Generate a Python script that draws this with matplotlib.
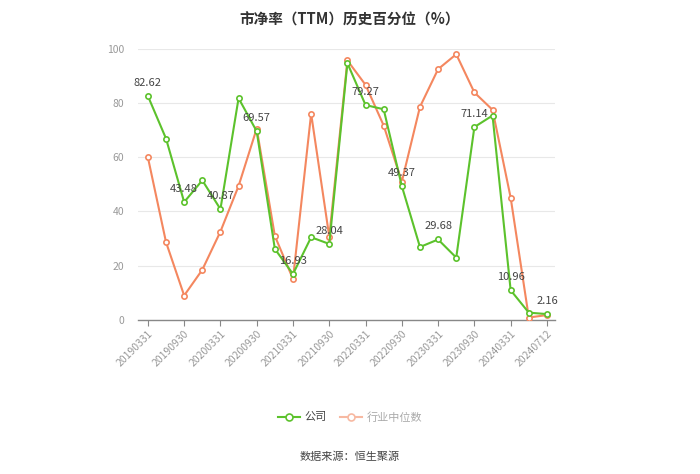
import matplotlib
matplotlib.use('Agg')
import matplotlib.pyplot as plt
from matplotlib.lines import Line2D

plt.rcParams['font.family'] = ['Noto Sans CJK SC', 'DejaVu Sans']

# ── data ────────────────────────────────────────────────────────────────────
DATES = ['20190331', '20190630', '20190930', '20191231', '20200331', '20200630',
         '20200930', '20201231', '20210331', '20210630', '20210930', '20211231',
         '20220331', '20220630', '20220930', '20221231', '20230331', '20230630',
         '20230930', '20231231', '20240331', '20240630', '20240712']
COMPANY = [82.62, 66.9, 43.48, 51.5, 40.87, 81.8, 69.57, 26.2, 16.93, 30.5,
           28.04, 94.7, 79.27, 77.7, 49.37, 26.9, 29.68, 23.0, 71.14, 75.4,
           10.96, 2.7, 2.16]
INDUSTRY = [60.0, 28.7, 9.0, 18.5, 32.6, 49.4, 70.6, 31.0, 15.1, 76.1, 30.7,
            95.7, 86.7, 71.7, 51.0, 78.6, 92.5, 98.0, 83.9, 77.5, 45.1, 0.9, 1.8]
TICK_IDX = [0, 2, 4, 6, 8, 10, 12, 14, 16, 18, 20, 22]

GREEN = '#5cc22c'
ORANGE = '#f4875f'

fig = plt.figure(figsize=(7.0, 4.74), dpi=100)
ax = fig.add_axes([0.197, 0.325, 0.596, 0.572])

xs = list(range(len(DATES)))
ax.plot(xs, INDUSTRY, color=ORANGE, lw=1.5, marker='o', ms=3.8,
        mfc='white', mec=ORANGE, mew=1.2, zorder=3)
ax.plot(xs, COMPANY, color=GREEN, lw=1.5, marker='o', ms=3.8,
        mfc='white', mec=GREEN, mew=1.2, zorder=4)

for i in TICK_IDX:
    ax.annotate(f'{COMPANY[i]:.2f}', (i, COMPANY[i]), xytext=(0, 6),
                textcoords='offset points', ha='center', va='bottom',
                fontsize=8, color='#444444', zorder=5)

ax.set_xlim(-0.55, len(DATES) - 0.55)
ax.set_ylim(0, 100)
ax.set_yticks([0, 20, 40, 60, 80, 100])
ax.set_xticks(TICK_IDX)
ax.set_xticklabels([DATES[i] for i in TICK_IDX], rotation=45, ha='right',
                   rotation_mode='anchor')
ax.tick_params(axis='x', colors='#999999', labelsize=7.5, length=4,
               width=0.8, color='#888888', pad=2)
ax.tick_params(axis='y', colors='#999999', labelsize=7.5, length=0, pad=10)
ax.grid(axis='y', color='#e8e8e8', lw=0.8)
ax.set_axisbelow(True)
for s in ('top', 'right', 'left'):
    ax.spines[s].set_visible(False)
ax.spines['bottom'].set_color('#888888')
ax.spines['bottom'].set_linewidth(1.0)

fig.text(0.5, 0.975, '市净率（TTM）历史百分位（%）', ha='center', va='top',
         fontsize=10.5, fontweight='bold', color='#333333')

handles = [
    Line2D([], [], color=GREEN, lw=1.5, marker='o', ms=5, mfc='white',
           mec=GREEN, mew=1.2),
    Line2D([], [], color='#f7b9a2', lw=1.5, marker='o', ms=5, mfc='white',
           mec='#f7b9a2', mew=1.2),
]
leg = fig.legend(handles, ['公司', '行业中位数'], loc='center',
                 bbox_to_anchor=(0.5, 0.12), ncol=2, frameon=False,
                 fontsize=8, handlelength=2.0, columnspacing=1.2,
                 handletextpad=0.4)
leg.get_texts()[0].set_color('#444444')
leg.get_texts()[1].set_color('#aaaaaa')

fig.text(0.5, 0.036, '数据来源：恒生聚源', ha='center', va='center',
         fontsize=8, color='#444444')

fig.savefig('out.png', dpi=100)
